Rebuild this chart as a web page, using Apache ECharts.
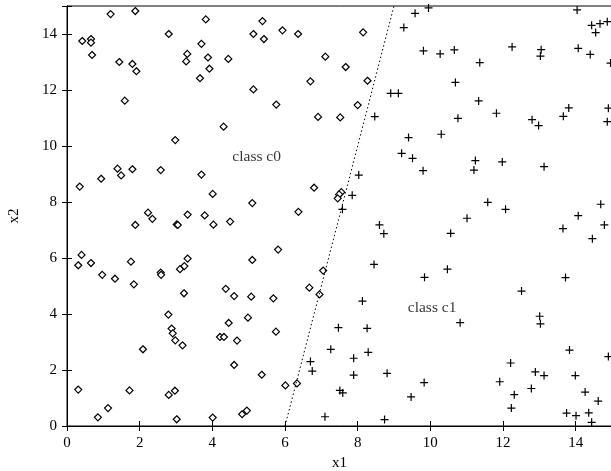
<!DOCTYPE html>
<html>
<head>
<meta charset="utf-8">
<script src="https://cdn.jsdelivr.net/npm/echarts@6/dist/echarts.min.js"></script>
<style>
  html, body { margin: 0; padding: 0; background: #fff; }
  #chart { width: 611px; height: 471px; }
</style>
</head>
<body>
<div id="chart"></div>
<script>
// class c0 (diamonds)
const c0X = [1.20, 1.88, 3.82, 2.80, 0.42, 0.66, 0.66, 0.69, 1.44, 1.80, 1.91, 1.59, 3.70, 3.31, 3.28, 3.88, 4.44, 3.92, 3.66, 4.31, 2.98,
  5.38, 5.13, 5.42, 5.93, 6.36, 8.15, 7.11, 7.67, 6.70, 8.27, 5.13, 5.76, 8.00, 6.91, 7.52,
  0.35, 0.94, 1.39, 1.49, 1.80, 2.58, 3.70, 4.01, 2.23, 2.35, 1.88, 3.02, 3.05, 3.32, 3.79, 4.03, 4.49,
  0.40, 0.31, 0.66, 0.97, 1.32, 1.76, 1.84, 2.58, 2.59, 3.11, 3.23, 3.32, 4.37,
  6.80, 5.10, 6.37, 7.55, 7.49, 7.45, 5.81, 5.10, 7.05, 6.67,
  3.22, 4.60, 2.79, 2.88, 2.91, 2.98, 3.18, 4.45, 4.21, 4.32, 4.68, 4.60, 2.09,
  0.31, 1.72, 2.80, 2.97, 1.13, 0.85, 3.02, 4.01, 4.82,
  5.07, 5.68, 6.95, 4.98, 5.75, 5.36, 6.01, 6.33, 4.95];
const c0Y = [14.71, 14.82, 14.52, 14.00, 13.75, 13.82, 13.69, 13.25, 13.00, 12.93, 12.67, 11.62, 13.65, 13.29, 13.02, 13.16, 13.11, 12.76, 12.42, 10.69, 10.21,
  14.46, 14.00, 13.82, 14.13, 14.00, 14.06, 13.19, 12.82, 12.31, 12.33, 12.02, 11.48, 11.46, 11.04, 11.02,
  8.55, 8.83, 9.19, 8.95, 9.17, 9.14, 8.98, 8.29, 7.62, 7.40, 7.18, 7.20, 7.18, 7.55, 7.52, 7.19, 7.30,
  6.11, 5.74, 5.82, 5.40, 5.26, 5.87, 5.06, 5.48, 5.40, 5.60, 5.71, 5.98, 4.90,
  8.51, 7.96, 7.65, 8.35, 8.27, 8.13, 6.30, 5.93, 5.55, 4.94,
  4.74, 4.64, 3.98, 3.48, 3.31, 3.06, 2.88, 3.68, 3.18, 3.18, 3.05, 2.18, 2.74,
  1.30, 1.27, 1.11, 1.26, 0.64, 0.31, 0.24, 0.30, 0.42,
  4.62, 4.56, 4.70, 3.87, 3.37, 1.83, 1.45, 1.52, 0.55];

// class c1 (plus signs)
const c1X = [9.58, 9.95, 9.27, 9.81, 8.91, 9.12, 8.47, 9.40,
  14.04, 14.44, 14.67, 14.87, 14.55, 10.27, 10.66, 12.25, 13.05, 13.03, 14.07, 14.40, 14.96,
  11.36, 10.69, 11.33, 10.76, 11.82, 12.80, 12.98, 13.66, 13.81, 14.90, 14.87, 10.30,
  8.03, 7.85, 7.58, 9.21, 9.51, 9.80, 8.60, 8.72, 8.45, 9.84,
  11.24, 11.20, 11.98, 13.13, 11.58, 12.07, 11.01, 10.56, 14.69, 14.07, 14.79, 13.65, 14.46, 10.47, 13.72,
  8.13, 7.47, 8.26, 7.26, 8.29, 7.89, 6.70, 6.75, 7.89, 8.81, 9.83, 7.51, 7.59, 9.47, 7.10, 8.74,
  12.51, 10.82, 13.01, 13.03, 13.83, 14.90, 12.21, 12.89, 13.13, 11.91, 13.99, 12.78, 12.31, 14.26,
  12.23, 14.62, 13.75, 14.01, 14.36, 14.44];
const c1Y = [14.74, 14.93, 14.23, 13.40, 11.88, 11.88, 11.05, 10.30,
  14.86, 14.31, 14.37, 14.44, 14.05, 13.29, 13.43, 13.54, 13.44, 13.21, 13.49, 13.27, 12.96,
  12.98, 12.27, 11.61, 10.99, 11.17, 10.94, 10.73, 11.06, 11.36, 11.35, 10.87, 10.42,
  8.96, 8.24, 7.74, 9.74, 9.56, 9.12, 7.18, 6.87, 5.77, 5.31,
  9.48, 9.14, 9.43, 9.26, 7.99, 7.74, 7.42, 6.88, 7.92, 7.51, 7.18, 7.05, 6.69, 5.60, 5.30,
  4.46, 3.51, 3.49, 2.74, 2.63, 2.42, 2.30, 1.96, 1.82, 1.88, 1.55, 1.27, 1.18, 1.04, 0.33, 0.23,
  4.82, 3.69, 3.92, 3.65, 2.71, 2.48, 2.25, 1.93, 1.80, 1.58, 1.80, 1.34, 1.12, 1.21,
  0.64, 0.89, 0.46, 0.37, 0.47, 0.13];

// separating line
const lineX = [6, 9];
const lineY = [0, 15];

const classNames = ['class c0', 'class c1'];

const zip = (xs, ys) => xs.map((x, i) => [x, ys[i]]);

const font = 'Liberation Serif';
const plus = 'path://M-0.6,-4H0.6V-0.6H4V0.6H0.6V4H-0.6V0.6H-4V-0.6H-0.6Z';

const axisCommon = {
  min: 0,
  max: 15,
  interval: 2,
  axisLine: { show: true, lineStyle: { color: '#000', width: 1 } },
  axisTick: { show: true, inside: true, length: 5, lineStyle: { color: '#000' } },
  splitLine: { show: false },
};

let myChart = echarts.init(document.getElementById('chart'));
myChart.setOption({
  animation: false,
  grid: {
    left: 67, right: -1, top: 6, bottom: 45,
    outerBoundsMode: 'none', containLabel: false,
    show: true, borderColor: '#000', borderWidth: 1,
  },
  xAxis: [
    Object.assign({}, axisCommon, {
      type: 'value',
      position: 'bottom',
      name: 'x1',
      nameLocation: 'middle',
      nameGap: 26,
      nameTextStyle: { fontFamily: font, fontSize: 15, color: '#000' },
      axisLabel: {
        margin: 10, fontFamily: font, fontSize: 15, color: '#000',
        formatter: v => (v === 15 ? '' : String(v)),
      },
    }),
    Object.assign({}, axisCommon, { type: 'value', position: 'top', axisLabel: { show: false } }),
  ],
  yAxis: [
    Object.assign({}, axisCommon, {
      type: 'value',
      position: 'left',
      name: 'x2',
      nameLocation: 'middle',
      nameGap: 45,
      nameTextStyle: { fontFamily: font, fontSize: 15, color: '#000' },
      axisLabel: {
        margin: 10, fontFamily: font, fontSize: 15, color: '#000',
        formatter: v => (v === 15 ? '' : String(v)),
      },
    }),
    Object.assign({}, axisCommon, { type: 'value', position: 'right', axisLabel: { show: false } }),
  ],
  series: [
    {
      name: classNames[0],
      type: 'scatter',
      data: zip(c0X, c0Y),
      symbol: 'diamond',
      symbolSize: 7,
      itemStyle: { color: '#fff', borderColor: '#000', borderWidth: 1.2, opacity: 1 },
      silent: true,
    },
    {
      name: classNames[1],
      type: 'scatter',
      data: zip(c1X, c1Y),
      symbol: plus,
      symbolSize: 8,
      itemStyle: { color: '#000', opacity: 1 },
      silent: true,
    },
    {
      type: 'line',
      data: zip(lineX, lineY),
      symbol: 'none',
      lineStyle: { color: '#000', width: 1, type: [1.5, 2.5] },
      silent: true,
    },
    {
      type: 'scatter',
      symbolSize: 0,
      silent: true,
      data: [[4.55, 9.6], [9.38, 4.2]],
      label: {
        show: true,
        position: 'right',
        distance: 0,
        fontFamily: font,
        fontSize: 15.5,
        color: '#000',
        formatter: p => classNames[p.dataIndex],
      },
    },
  ],
});
</script>
</body>
</html>
